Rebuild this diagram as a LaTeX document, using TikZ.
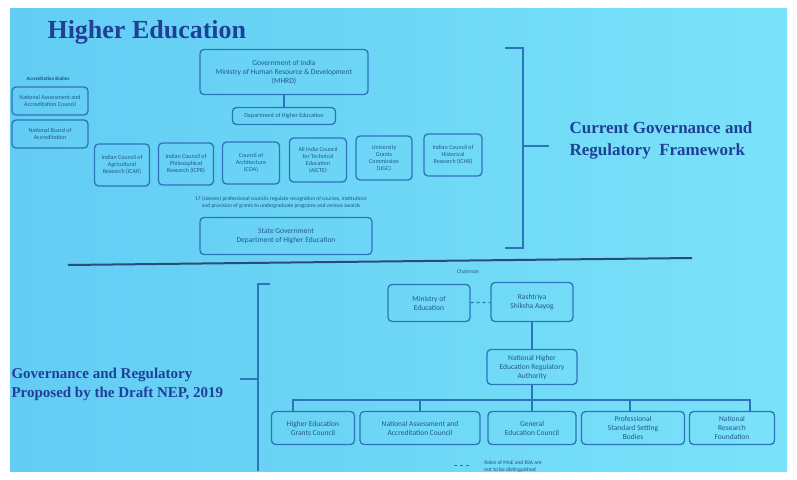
\documentclass[tikz,border=0pt]{standalone}
\usepackage{fontspec}
\setmainfont{Liberation Serif}
\newfontfamily\boxfont{Carlito}
\definecolor{slide}{RGB}{122,226,248}
\definecolor{slideleft}{RGB}{98,204,244}
\definecolor{ink}{RGB}{32,64,152}
\definecolor{edge}{RGB}{46,116,188}
\definecolor{rulecol}{RGB}{42,76,120}
\tikzset{
  box/.style={draw=edge, rounded corners=4pt, line width=1.3pt, align=center,
    text=edge!75!black, inner sep=2pt, font=\boxfont\fontsize{7.5}{9}\selectfont},
  smallbox/.style={box, font=\boxfont\fontsize{6}{7}\selectfont},
  wire/.style={draw=edge, line width=1.2pt},
  heading/.style={text=ink, font=\bfseries\fontsize{17}{22}\selectfont, align=left},
  note/.style={text=edge!70!black, font=\boxfont\fontsize{5.5}{7}\selectfont, align=center}
}
\begin{document}
\begin{tikzpicture}[x=1pt, y=-1pt]
    % --- Slide ---
    \useasboundingbox (0,0) rectangle (797,479);
    \fill[white] (0,0) rectangle (797,479);
    \shade[left color=slideleft, right color=slide] (10,8) rectangle (787,471);

    % --- Title ---
    \node[text=ink, font=\bfseries\fontsize{26}{30}\selectfont, anchor=west] (title) at (44,32) {Higher Education};

    % --- Accreditation bodies (left) ---
    \node[note, font=\boxfont\bfseries\fontsize{5}{6}\selectfont] (acc) at (48,79) {Accreditation Bodies};
    \node[smallbox, minimum width=76, minimum height=28] (naacold) at (50,101) {National Assessment and\\Accreditation Council};
    \node[smallbox, minimum width=76, minimum height=28] (nba) at (50,134) {National Board of\\Accreditation};

    % --- Current structure ---
    \node[box, minimum width=168, minimum height=45] (mhrd) at (284,72) {Government of India\\Ministry of Human Resource \& Development\\(MHRD)};
    \node[smallbox, minimum width=103, minimum height=17] (dhe) at (284,116) {Department of Higher Education};
    \draw[wire] (mhrd) -- (dhe);

    % six councils, left to right
    \node[smallbox, minimum width=55, minimum height=42] (icar) at (122,165) {Indian Council of\\Agricultural\\Research (ICAR)};
    \node[smallbox, minimum width=55, minimum height=42] (icpr) at (186,164) {Indian Council of\\Philosophical\\Research (ICPR)};
    \node[smallbox, minimum width=57, minimum height=42] (coa) at (251,163) {Council of\\Architecture\\(COA)};
    \node[smallbox, minimum width=57, minimum height=44] (aicte) at (318,160) {All India Council\\for Technical\\Education\\(AICTE)};
    \node[smallbox, minimum width=56, minimum height=44] (ugc) at (384,158) {University\\Grants\\Commission\\(UGC)};
    \node[smallbox, minimum width=58, minimum height=42] (ichr) at (453,155) {Indian Council of\\Historical\\Research (ICHR)};

    \node[note] (councils) at (281,202) {17 (sixteen) professional councils regulate recognition of courses, institutions\\and provision of grants to undergraduate programs and various awards};

    \node[box, minimum width=172, minimum height=37] (state) at (286,236) {State Government\\Department of Higher Education};

    % --- Right brace and label ---
    \coordinate (rbTop) at (505,48);
    \coordinate (rbBot) at (505,248);
    \coordinate (rbTip) at (549,146);
    \draw[edge, line width=1.2pt] (rbTop) -- (523,48) -- (523,248) -- (rbBot);
    \draw[edge, line width=1.2pt] (523,146) -- (rbTip);
    \node[heading, anchor=west] (current) at (566,140) {Current Governance and\\Regulatory\ \ Framework};

    % --- Separator ---
    \draw[rulecol, line width=2pt] (68,265) -- (692,258);

    % --- Proposed structure ---
    \node[note] (chair) at (468,272) {Chairman};
    \node[box, minimum width=82, minimum height=37] (moe) at (429,303) {Ministry of\\Education};
    \node[box, minimum width=82, minimum height=39] (rsa) at (532,302) {Rashtriya\\Shiksha Aayog};
    \draw[wire, dashed] (moe) -- (rsa);
    \node[box, minimum width=90, minimum height=35] (nhera) at (532,367) {National Higher\\Education Regulatory\\Authority};
    \draw[wire] (rsa) -- (nhera);

    \node[box, minimum width=83, minimum height=33] (hegc) at (313,428) {Higher Education\\Grants Council};
    \node[box, minimum width=120, minimum height=33] (naac) at (420,428) {National Assessment and\\Accreditation Council};
    \node[box, minimum width=88, minimum height=33] (gec) at (532,428) {General\\Education Council};
    \node[box, minimum width=103, minimum height=33] (pssb) at (633,428) {Professional\\Standard Setting\\Bodies};
    \node[box, minimum width=85, minimum height=33] (nrf) at (732,428) {National\\Research\\Foundation};

    % bus under the authority
    \coordinate (bus) at (532,400);
    \draw[wire] (nhera) -- (gec);
    \draw[wire] ([xshift=-20pt]hegc.north) |- (bus);
    \draw[wire] (naac.north) |- (bus);
    \draw[wire] ([xshift=-3pt]pssb.north) |- (bus);
    \draw[wire] ([xshift=18pt]nrf.north) |- (bus);

    % --- Left brace and label ---
    \coordinate (lbTop) at (270,284);
    \coordinate (lbBot) at (270,471);
    \coordinate (lbTip) at (240,379);
    \draw[edge, line width=1.2pt] (lbTop) -- (258,284) -- (258,471);
    \draw[edge, line width=1.2pt] (258,379) -- (lbTip);
    \node[heading, font=\bfseries\fontsize{15}{19}\selectfont, anchor=west] (proposed) at (8,384) {Governance and Regulatory\\Proposed by the Draft NEP, 2019};

    % --- Legend ---
    \node[note, align=left] (legend) at (513,467) {Roles of MoE and RSA are\\not to be distinguished};
    \coordinate (legA) at (454,465);
    \draw[wire, dashed, line width=0.7pt] (legA) -- ([xshift=-10pt]legend.west |- legA);
\end{tikzpicture}
\end{document}
